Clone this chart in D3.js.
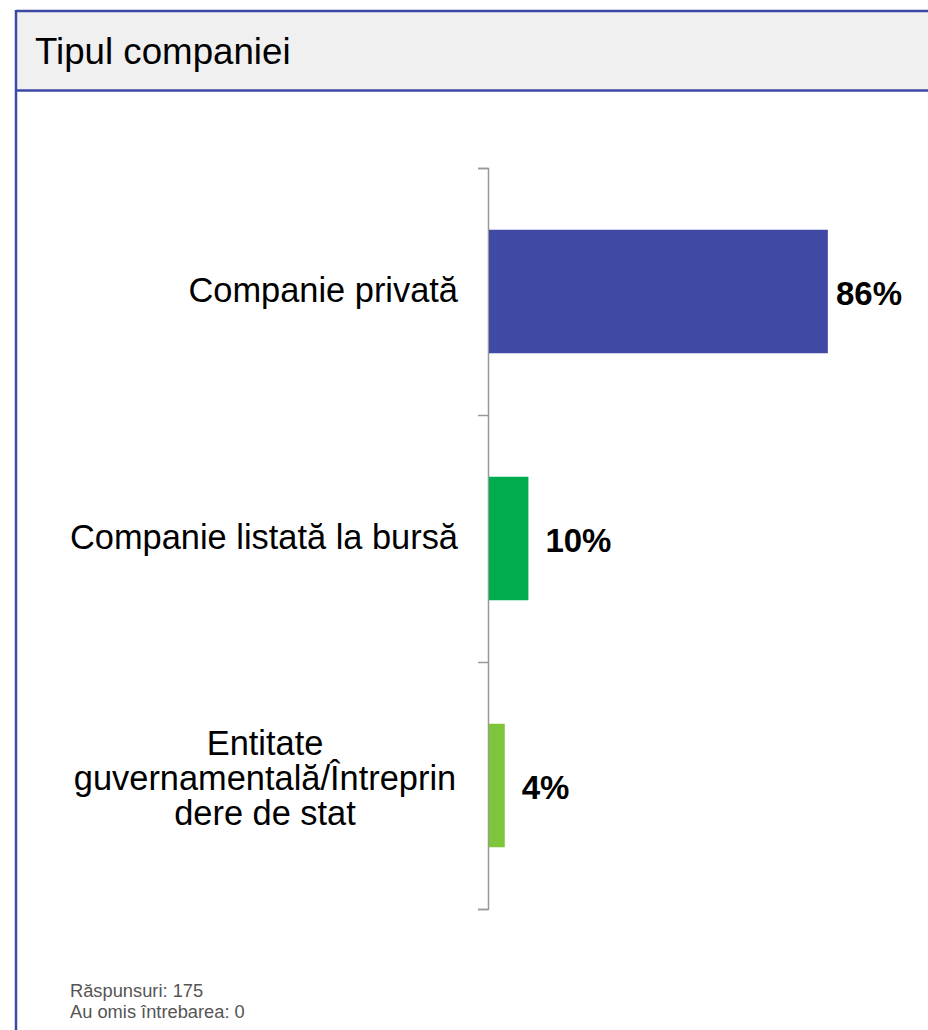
<!DOCTYPE html>
<html>
<head>
<meta charset="utf-8">
<script src="https://cdn.jsdelivr.net/npm/d3@7"></script>
<style>
  html, body { margin: 0; padding: 0; background: #fff; }
  svg { display: block; font-family: "Liberation Sans", Arial, sans-serif; }
</style>
</head>
<body>
<svg id="chart" width="928" height="1030"></svg>
<script>
const title = "Tipul companiei";
const categories = [
  ["Companie privată"],
  ["Companie listată la bursă"],
  ["Entitate", "guvernamentală/Întreprin", "dere de stat"]
];
const values = [86, 10, 4];
const valueLabels = ["86%", "10%", "4%"];
const colors = ["#404aa5", "#00ad4e", "#7dc63b"];
const footer = ["Răspunsuri: 175", "Au omis întrebarea: 0"];

const svg = d3.select("#chart");

// panel with header
svg.append("rect").attr("x", 16).attr("y", 11).attr("width", 940).attr("height", 80)
  .attr("fill", "#f0f0f0");
svg.append("line").attr("x1", 16).attr("x2", 940).attr("y1", 11).attr("y2", 11)
  .attr("stroke", "#3c4aa6").attr("stroke-width", 2.5);
svg.append("line").attr("x1", 16).attr("x2", 940).attr("y1", 90.5).attr("y2", 90.5)
  .attr("stroke", "#3c4aa6").attr("stroke-width", 2.5);
svg.append("line").attr("x1", 16).attr("x2", 16).attr("y1", 10).attr("y2", 1040)
  .attr("stroke", "#3c4aa6").attr("stroke-width", 2.5);

svg.append("text").attr("x", 35).attr("y", 64)
  .attr("font-size", 36.7).attr("fill", "#000").text(title);

// scales
const y = d3.scaleBand().domain(d3.range(categories.length))
  .range([168, 909]).paddingInner(0.5).paddingOuter(0.25);
const x = d3.scaleLinear().domain([0, 100]).range([489, 883]);
const yb = d3.scaleLinear().domain([0, categories.length]).range([168, 909]);

// axis with boundary ticks
const axis = svg.append("g").attr("transform", "translate(488,0)")
  .call(d3.axisLeft(yb).tickValues(d3.range(categories.length + 1))
    .tickSize(10).tickFormat(""));
axis.selectAll("path, line").attr("stroke", "#999").attr("stroke-width", 1.5);

// bars
svg.append("g").selectAll("rect").data(values).join("rect")
  .attr("x", x(0))
  .attr("y", (d, i) => y(i))
  .attr("width", d => x(d) - x(0))
  .attr("height", y.bandwidth())
  .attr("fill", (d, i) => colors[i]);

// value labels
svg.append("g").selectAll("text").data(values).join("text")
  .attr("x", d => Math.min(x(d) + 17, 836))
  .attr("y", (d, i) => y(i) + y.bandwidth() / 2 + 13)
  .attr("font-size", 33).attr("font-weight", "bold").attr("fill", "#000")
  .text((d, i) => valueLabels[i]);

// category labels
const lineH = 35;
categories.forEach((lines, i) => {
  const cy = y(i) + y.bandwidth() / 2;
  const multi = lines.length > 1;
  const t = svg.append("text")
    .attr("font-size", 34.4).attr("fill", "#000")
    .attr("text-anchor", multi ? "middle" : "end");
  lines.forEach((ln, k) => {
    t.append("tspan")
      .attr("x", multi ? 265 : 458)
      .attr("y", cy + (k - (lines.length - 1) / 2) * lineH + (multi ? 4.5 : 10.3))
      .text(ln);
  });
});

// footer
svg.append("g").selectAll("text").data(footer).join("text")
  .attr("x", 70).attr("y", (d, i) => 996.5 + i * 21.7)
  .attr("font-size", 18.3).attr("fill", "#555")
  .text(d => d);
</script>
</body>
</html>
